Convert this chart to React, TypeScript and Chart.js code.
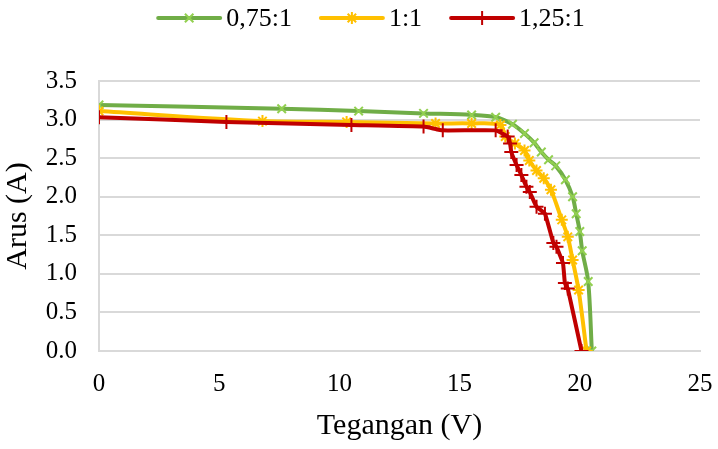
import React, { useRef, useEffect } from "react";
import Chart from "chart.js/auto";

// series names (legend)
const seriesLabels = ["0,75:1", "1:1", "1,25:1"];

// Tegangan (V) / Arus (A) per series
const voltage075 = [0, 7.6, 10.8, 13.5, 15.5, 16.5, 17.2, 17.7, 18.1, 18.4, 18.7, 19.0, 19.4, 19.7, 19.85, 20.0, 20.1, 20.35, 20.5];
const current075 = [3.19, 3.14, 3.11, 3.08, 3.06, 3.03, 2.94, 2.82, 2.7, 2.58, 2.48, 2.4, 2.22, 2.0, 1.78, 1.55, 1.3, 0.9, 0.0];

const voltage11 = [0, 6.8, 10.3, 14.0, 15.5, 16.7, 16.9, 17.3, 17.7, 17.9, 18.2, 18.5, 18.8, 19.25, 19.5, 19.7, 19.95, 20.28];
const current11 = [3.11, 2.98, 2.97, 2.95, 2.95, 2.93, 2.78, 2.69, 2.6, 2.47, 2.34, 2.24, 2.09, 1.7, 1.48, 1.18, 0.79, 0.0];

const voltage125 = [0, 5.3, 10.5, 13.5, 14.3, 16.5, 17.0, 17.1, 17.15, 17.37, 17.57, 17.78, 17.92, 18.2, 18.55, 18.9, 19.03, 19.3, 19.38, 19.5, 20.07];
const current125 = [3.03, 2.97, 2.93, 2.91, 2.86, 2.86, 2.78, 2.69, 2.58, 2.41, 2.28, 2.13, 2.06, 1.87, 1.78, 1.4, 1.35, 1.14, 0.88, 0.81, 0.0];

// axis ticks
const xTicks = [0, 5, 10, 15, 20, 25];
const yTicks = [0, 0.5, 1.0, 1.5, 2.0, 2.5, 3.0, 3.5];

const FONT = '"Liberation Serif", "Times New Roman", serif';

const styles = [
  { line: "#70ad47", marker: "#92d050", point: "crossRot", radius: 6 },
  { line: "#ffc000", marker: "#ffc000", point: "star", radius: 6 },
  { line: "#c00000", marker: "#c00000", point: "cross", radius: 7 },
];

const toPoints = (xs: number[], ys: number[]) => xs.map((x, i) => ({ x, y: ys[i] }));

function drawMarker(ctx: CanvasRenderingContext2D, style: string, x: number, y: number, r: number) {
  ctx.beginPath();
  if (style === "cross" || style === "star") {
    ctx.moveTo(x - r, y);
    ctx.lineTo(x + r, y);
    ctx.moveTo(x, y - r);
    ctx.lineTo(x, y + r);
  }
  if (style === "crossRot" || style === "star") {
    const d = r * Math.SQRT1_2;
    ctx.moveTo(x - d, y - d);
    ctx.lineTo(x + d, y + d);
    ctx.moveTo(x - d, y + d);
    ctx.lineTo(x + d, y - d);
  }
  ctx.stroke();
}

// Excel style legend: line with marker in the middle, then the text
const legendPlugin = {
  id: "excelLegend",
  afterDraw(chart: Chart) {
    const ctx = chart.ctx;
    ctx.save();
    ctx.font = `26px ${FONT}`;
    ctx.textBaseline = "middle";
    ctx.fillStyle = "#000";
    const lineLen = 62;
    const textGap = 6;
    const itemGap = 29;
    const widths = seriesLabels.map((l) => lineLen + textGap + ctx.measureText(l).width);
    const total = widths.reduce((a, b) => a + b, 0) + itemGap * (widths.length - 1);
    let x = 371.5 - total / 2;
    const y = 18;
    seriesLabels.forEach((label, i) => {
      const s = styles[i];
      ctx.strokeStyle = s.line;
      ctx.lineWidth = 4;
      ctx.lineCap = "round";
      ctx.beginPath();
      ctx.moveTo(x, y);
      ctx.lineTo(x + lineLen, y);
      ctx.stroke();
      ctx.lineCap = "butt";
      ctx.strokeStyle = s.marker;
      ctx.lineWidth = 2;
      drawMarker(ctx, s.point, x + lineLen / 2, y, s.radius);
      ctx.fillText(label, x + lineLen + textGap, y + 1);
      x += widths[i] + itemGap;
    });
    ctx.restore();
  },
};

const App: React.FC = () => {
  const canvasRef = useRef<HTMLCanvasElement>(null);
  const chartInstance = useRef<Chart | null>(null);

  useEffect(() => {
    document.body.style.margin = "0";
    if (!canvasRef.current) return;
    const ctx = canvasRef.current.getContext("2d");
    if (!ctx) return;

    if (chartInstance.current) {
      chartInstance.current.destroy();
    }

    const series = [
      toPoints(voltage075, current075),
      toPoints(voltage11, current11),
      toPoints(voltage125, current125),
    ];

    chartInstance.current = new Chart(ctx, {
      type: "line",
      data: {
        datasets: series.map((data, i) => ({
          label: seriesLabels[i],
          data,
          borderColor: styles[i].line,
          borderWidth: 4,
          backgroundColor: styles[i].marker,
          pointStyle: styles[i].point as any,
          pointRadius: styles[i].radius,
          pointBorderColor: styles[i].marker,
          pointBorderWidth: 2,
          tension: i === 2 ? 0.1 : 0.3,
          fill: false,
          order: 3 - i, // red on top, like the original
        })),
      },
      plugins: [legendPlugin],
      options: {
        animation: false,
        responsive: true,
        maintainAspectRatio: false,
        layout: { padding: { top: 81, right: 18, left: 0, bottom: 0 } },
        plugins: {
          legend: { display: false },
          tooltip: { enabled: false },
        },
        scales: {
          x: {
            type: "linear",
            min: xTicks[0],
            max: xTicks[xTicks.length - 1],
            afterFit: (scale: any) => {
              scale.height = 98;
              scale.paddingLeft = 0;
              scale.paddingRight = 0;
            },
            ticks: {
              stepSize: xTicks[1] - xTicks[0],
              color: "#000",
              font: { family: FONT, size: 25 },
              padding: 18,
              maxRotation: 0,
            },
            grid: { display: false, drawTicks: false },
            border: { display: true, color: "#d9d9d9", width: 2 },
            title: {
              display: true,
              text: "Tegangan (V)",
              color: "#000",
              font: { family: FONT, size: 30 },
              padding: { top: 0, bottom: 5 },
            },
          },
          y: {
            type: "linear",
            min: yTicks[0],
            max: yTicks[yTicks.length - 1],
            afterFit: (scale: any) => {
              scale.width = 99;
            },
            ticks: {
              stepSize: yTicks[1] - yTicks[0],
              color: "#000",
              font: { family: FONT, size: 25 },
              padding: 22,
              callback: (v: any) => Number(v).toFixed(1),
            },
            grid: { color: "#d9d9d9", lineWidth: 2, drawTicks: false },
            border: { display: true, color: "#d9d9d9", width: 2 },
            title: {
              display: true,
              text: "Arus (A)",
              color: "#000",
              font: { family: FONT, size: 30 },
              padding: { top: 0, bottom: 0 },
            },
          },
        },
      },
    });

    return () => {
      if (chartInstance.current) {
        chartInstance.current.destroy();
        chartInstance.current = null;
      }
    };
  }, []);

  return (
    <div style={{ width: 718, height: 449, position: "relative", background: "#fff" }}>
      <canvas ref={canvasRef}></canvas>
    </div>
  );
};

export default App;
